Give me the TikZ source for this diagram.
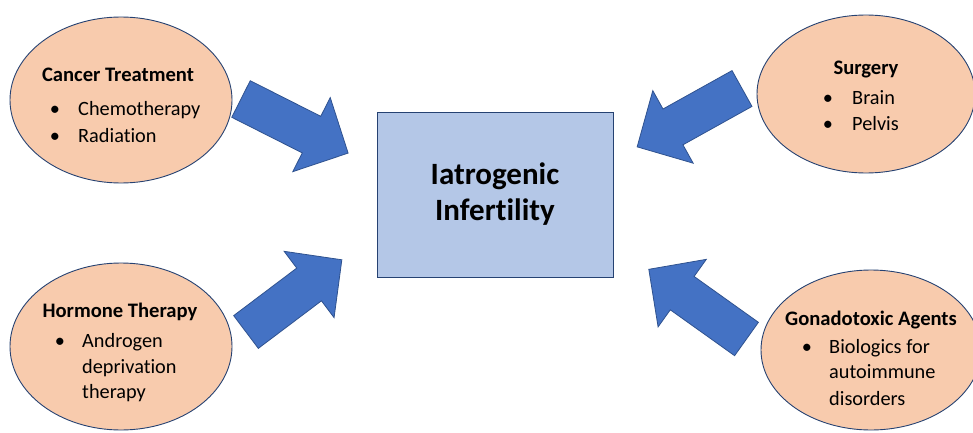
\documentclass[tikz,border=0pt]{standalone}
\usepackage{fontspec}
\setmainfont{Carlito}[Ligatures=NoCommon]
\usetikzlibrary{shapes.geometric}
\definecolor{peach}{HTML}{F8CBAD}
\definecolor{edgeblue}{HTML}{2F528F}
\definecolor{arrowblue}{HTML}{4472C4}
\definecolor{boxblue}{HTML}{B4C7E7}
\begin{document}
\begin{tikzpicture}[x=1pt,y=-1pt,
  oval/.style={ellipse, draw=edgeblue!80!black, line width=0.9pt, fill=peach, inner sep=0},
  centerbox/.style={rectangle, draw=edgeblue!80!black, line width=0.9pt, fill=boxblue, inner sep=0,
    align=center, font=\fontsize{31}{36}\selectfont\bfseries},
  barrow/.style={fill=arrowblue, draw=edgeblue, line width=0.8pt, line join=miter},
  head/.style={font=\fontsize{20.6}{24}\selectfont\bfseries, anchor=base, inner sep=0},
  item/.style={font=\fontsize{20.3}{24}\selectfont, anchor=base west, inner sep=0},
  dot/.style={font=\fontsize{20.3}{24}\selectfont, anchor=base, inner sep=0}]
\useasboundingbox (0,0) rectangle (973,433);
\clip (0,0) rectangle (973,433);

% ellipses
\node[oval, minimum width=222pt, minimum height=166pt] (cancer) at (121,100) {};
\node[oval, minimum width=222pt, minimum height=167pt] (hormone) at (121,346.5) {};
\node[oval, minimum width=218pt, minimum height=158pt] (surgery) at (866,94) {};
\node[oval, minimum width=220pt, minimum height=160pt] (gonado) at (871,350) {};

% center box
\node[centerbox, minimum width=236pt, minimum height=165pt] (center) at (495,194.5)
  {Iatrogenic\\Infertility};

% arrows
\coordinate (t1) at (241,99);
\begin{scope}[shift={(t1)}, rotate=-26.8]
  \draw[barrow] (0,20.5) -- (79,20.5) -- (79,41.5) -- (120,0) -- (79,-41.5) -- (79,-20.5) -- (0,-20.5) -- cycle;
\end{scope}
\coordinate (t2) at (246,332);
\begin{scope}[shift={(t2)}, rotate=37]
  \draw[barrow] (0,20.5) -- (79,20.5) -- (79,41.5) -- (120,0) -- (79,-41.5) -- (79,-20.5) -- (0,-20.5) -- cycle;
\end{scope}
\coordinate (t3) at (742,88.5);
\begin{scope}[shift={(t3)}, rotate=209.1]
  \draw[barrow] (0,20.5) -- (79,20.5) -- (79,41.5) -- (120,0) -- (79,-41.5) -- (79,-20.5) -- (0,-20.5) -- cycle;
\end{scope}
\coordinate (t4) at (746.5,339);
\begin{scope}[shift={(t4)}, rotate=144.5]
  \draw[barrow] (0,20.5) -- (79,20.5) -- (79,41.5) -- (120,0) -- (79,-41.5) -- (79,-20.5) -- (0,-20.5) -- cycle;
\end{scope}

% Cancer Treatment
\node[head] (h1) at (118,82) {Cancer Treatment};
\node[dot] (d11) at (55,115) {•};
\node[item] (i11) at (78,115) {Chemotherapy};
\node[dot] (d12) at (55,142) {•};
\node[item] (i12) at (78,142) {Radiation};

% Surgery
\node[head] (h2) at (866,75) {Surgery};
\node[dot] (d21) at (828,105) {•};
\node[item] (i21) at (852,105) {Brain};
\node[dot] (d22) at (828,130) {•};
\node[item] (i22) at (852,130) {Pelvis};

% Hormone Therapy
\node[head] (h3) at (120,317) {Hormone Therapy};
\node[dot] (d31) at (60,347) {•};
\node[item] (i31) at (82,347) {Androgen};
\node[item] (i32) at (82,373) {deprivation};
\node[item] (i33) at (82,398) {therapy};

% Gonadotoxic Agents
\node[head] (h4) at (871,325) {Gonadotoxic Agents};
\node[dot] (d41) at (807,353) {•};
\node[item] (i41) at (829,353) {Biologics for};
\node[item] (i42) at (829,378) {autoimmune};
\node[item] (i43) at (829,405) {disorders};
\end{tikzpicture}
\end{document}
